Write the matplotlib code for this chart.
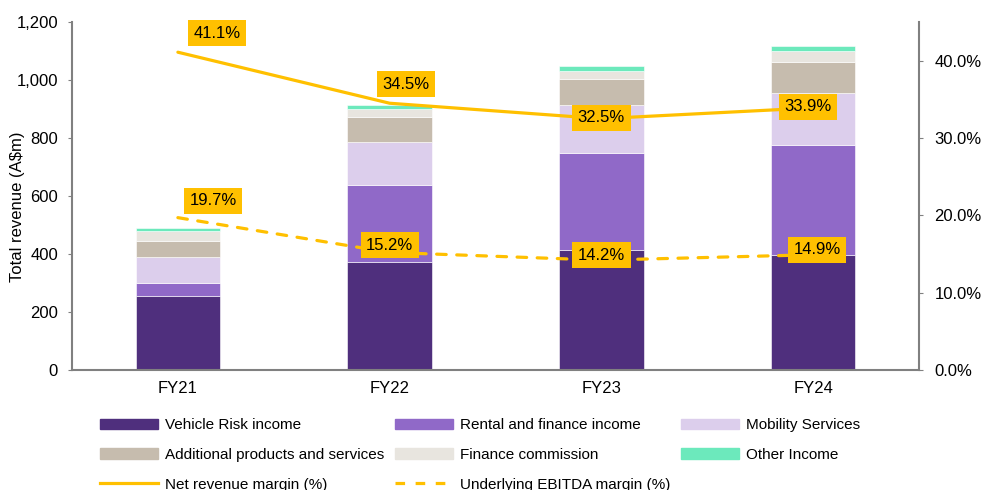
import numpy as np
import matplotlib.pyplot as plt
from matplotlib.lines import Line2D
from matplotlib.patches import Patch

plt.rcParams['font.family'] = ['Liberation Sans', 'DejaVu Sans']

years = ['FY21', 'FY22', 'FY23', 'FY24']

vehicle_risk = [256, 371, 414, 397]
rental_finance = [45, 267, 333, 379]
mobility = [89, 149, 167, 178]
additional = [55, 85, 89, 107]
finance_comm = [34, 28, 29, 40]
other_income = [10, 13, 16, 17]

net_revenue_margin = [41.1, 34.5, 32.5, 33.9]
ebitda_margin = [19.7, 15.2, 14.2, 14.9]

segments = [
    ('Vehicle Risk income', vehicle_risk, '#4F2F7D'),
    ('Rental and finance income', rental_finance, '#9069C8'),
    ('Mobility Services', mobility, '#DCCEEC'),
    ('Additional products and services', additional, '#C6BCAE'),
    ('Finance commission', finance_comm, '#E8E5DF'),
    ('Other Income', other_income, '#6CE9BC'),
]
yellow = '#FFC000'
grey = '#808080'

fig = plt.figure(figsize=(9.81, 4.9), dpi=100)
ax = fig.add_axes([0.0734, 0.245, 0.8634, 0.71])
x = np.arange(len(years))

bottom = np.zeros(len(years))
for name, vals, col in segments:
    ax.bar(x, vals, 0.4, bottom=bottom, color=col, edgecolor='white', linewidth=0.4, label=name)
    bottom += np.array(vals)

ax.set_xlim(-0.5, 3.5)
ax.set_ylim(0, 1200)
ax.set_yticks(range(0, 1201, 200))
ax.set_yticklabels([f'{v:,}' for v in range(0, 1201, 200)])
ax.set_xticks(x)
ax.set_xticklabels(years)
ax.set_ylabel('Total revenue (A$m)', fontsize=12)
ax.yaxis.set_label_coords(-0.056, 0.47)
ax.tick_params(axis='y', length=3, color=grey, labelsize=12, pad=7)
ax.tick_params(axis='x', length=0, labelsize=12, pad=8)
for s in ['top', 'right']:
    ax.spines[s].set_visible(False)
for s in ['left', 'bottom']:
    ax.spines[s].set_color(grey)
    ax.spines[s].set_linewidth(1.5)

ax2 = ax.twinx()
ax2.set_ylim(0, 45)
ax2.set_yticks(range(0, 41, 10))
ax2.set_yticklabels([f'{v:.1f}%' for v in range(0, 41, 10)])
ax2.tick_params(axis='y', length=3, color=grey, labelsize=12, pad=8)
for s in ['top', 'left', 'bottom']:
    ax2.spines[s].set_visible(False)
ax2.spines['right'].set_color(grey)
ax2.spines['right'].set_linewidth(1.5)

ax2.plot(x, net_revenue_margin, color=yellow, lw=2.3, solid_capstyle='round')
ax2.plot(x, ebitda_margin, color=yellow, lw=2.3, ls=(0, (3, 3.3)), dash_capstyle='round')

box = dict(boxstyle='square,pad=0.33', fc=yellow, ec='none')
offsets_net = [(39, 19), (16, 19), (0, 1), (-5, 1)]
offsets_ebitda = [(35, 17), (0, 7), (0, 5), (4, 5)]
for i in range(len(years)):
    ax2.annotate(f'{net_revenue_margin[i]:.1f}%', (x[i], net_revenue_margin[i]),
                 xytext=offsets_net[i], textcoords='offset pixels',
                 ha='center', va='center', fontsize=12, bbox=box)
    ax2.annotate(f'{ebitda_margin[i]:.1f}%', (x[i], ebitda_margin[i]),
                 xytext=offsets_ebitda[i], textcoords='offset pixels',
                 ha='center', va='center', fontsize=12, bbox=box)

bars = [Patch(color=c, label=n) for n, _, c in segments]
net_h = Line2D([], [], color=yellow, lw=2.3, label='Net revenue margin (%)')
ebit_h = Line2D([], [], color=yellow, lw=2.3, ls=(0, (3, 3.3)), label='Underlying EBITDA margin (%)')
handles = [bars[0], bars[3], net_h, bars[1], bars[4], ebit_h, bars[2], bars[5]]
fig.legend(handles=handles, loc='upper left', bbox_to_anchor=(0.102, 0.146), ncol=3,
           frameon=False, fontsize=11, handlelength=3.8, handleheight=0.7,
           handletextpad=0.45, columnspacing=0.7, labelspacing=1.02, borderaxespad=0,
           borderpad=0)

fig.savefig('out.png', dpi=100)
